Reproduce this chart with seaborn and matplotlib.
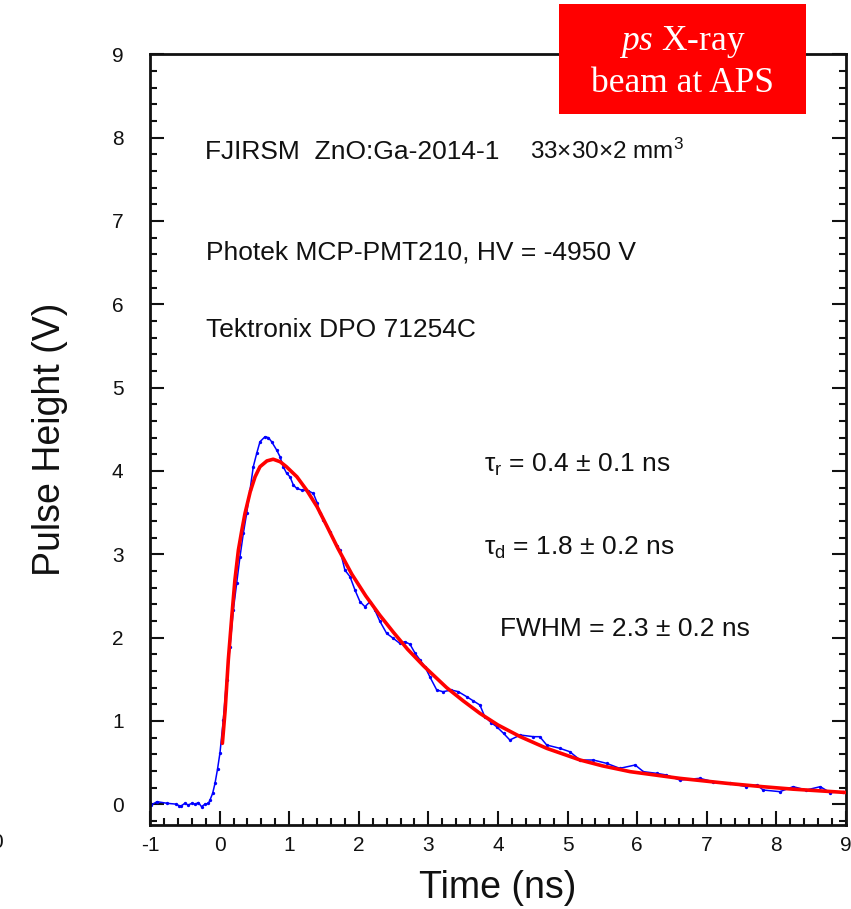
import matplotlib
matplotlib.use("Agg")
import matplotlib.pyplot as plt
from matplotlib.patches import Rectangle
from matplotlib.ticker import MultipleLocator
import seaborn as sns
import pandas as pd

# Measured pulse (time in ns, pulse height in V)
t_data = [-1.00, -0.98, -0.90, -0.75, -0.62, -0.58, -0.55, -0.50, -0.45, -0.40,
          -0.35, -0.305, -0.26, -0.21, -0.16, -0.138, -0.10, -0.066, -0.03, 0.006,
          0.053, 0.10, 0.149, 0.197, 0.245, 0.293, 0.341, 0.389, 0.437, 0.484,
          0.533, 0.58, 0.652, 0.70, 0.748, 0.82, 0.868, 0.915, 0.964, 1.011,
          1.06, 1.108, 1.18, 1.275, 1.347, 1.40, 1.44, 1.49, 1.586, 1.68,
          1.73, 1.80, 1.874, 1.945, 2.017, 2.089, 2.16, 2.23, 2.30, 2.40,
          2.496, 2.59, 2.66, 2.735, 2.81, 2.88, 2.95, 3.02, 3.12, 3.21,
          3.33, 3.43, 3.55, 3.645, 3.74, 3.81, 3.90, 3.98, 4.08, 4.17,
          4.32, 4.51, 4.60, 4.70, 4.89, 5.03, 5.18, 5.37, 5.56, 5.75,
          5.97, 6.09, 6.28, 6.42, 6.61, 6.90, 7.09, 7.33, 7.57, 7.72,
          7.81, 8.05, 8.24, 8.43, 8.63, 8.77, 8.96]
v_data = [0.01, -0.01, 0.03, 0.01, 0.00, -0.02, -0.02, 0.01, -0.01, 0.01,
          0.00, 0.02, -0.03, 0.00, 0.01, 0.05, 0.13, 0.25, 0.42, 0.62,
          1.01, 1.49, 1.89, 2.33, 2.65, 2.97, 3.25, 3.49, 3.77, 4.05,
          4.21, 4.35, 4.41, 4.40, 4.35, 4.25, 4.17, 4.05, 3.97, 3.93,
          3.83, 3.79, 3.77, 3.76, 3.73, 3.62, 3.49, 3.41, 3.27, 3.10,
          3.05, 2.81, 2.73, 2.57, 2.43, 2.37, 2.43, 2.33, 2.20, 2.05,
          1.99, 1.93, 1.95, 1.92, 1.81, 1.73, 1.65, 1.53, 1.37, 1.35,
          1.37, 1.35, 1.29, 1.24, 1.19, 1.05, 0.98, 0.93, 0.85, 0.77,
          0.83, 0.81, 0.81, 0.71, 0.67, 0.63, 0.53, 0.53, 0.49, 0.43,
          0.47, 0.39, 0.37, 0.35, 0.29, 0.31, 0.27, 0.25, 0.21, 0.23,
          0.17, 0.15, 0.21, 0.17, 0.21, 0.14, 0.15]

# Fitted pulse shape
t_fit = [0.04, 0.08, 0.125, 0.175, 0.22, 0.27, 0.32, 0.365, 0.44, 0.51,
         0.58, 0.68, 0.77, 0.87, 0.96, 1.11, 1.25, 1.40, 1.54, 1.70,
         1.90, 2.10, 2.30, 2.50, 2.70, 2.93, 3.26, 3.50, 3.74, 4.00,
         4.32, 4.70, 5.18, 5.50, 5.90, 6.30, 6.61, 7.29, 7.80, 8.24,
         9.00]
v_fit = [0.73, 1.13, 1.73, 2.25, 2.69, 3.05, 3.29, 3.49, 3.75, 3.93,
         4.05, 4.12, 4.14, 4.11, 4.05, 3.93, 3.77, 3.57, 3.34, 3.07,
         2.76, 2.50, 2.27, 2.06, 1.86, 1.66, 1.40, 1.24, 1.09, 0.95,
         0.81, 0.67, 0.53, 0.46, 0.39, 0.345, 0.31, 0.25, 0.21, 0.18,
         0.14]

x_ticks = list(range(-1, 10))
y_ticks = list(range(0, 10))

sns.set_theme(style="ticks")
plt.rcParams["font.family"] = ["Liberation Sans", "DejaVu Sans"]
plt.rcParams["axes.unicode_minus"] = False
plt.rcParams["mathtext.fontset"] = "custom"
plt.rcParams["mathtext.rm"] = "Liberation Serif"
plt.rcParams["mathtext.it"] = "Liberation Serif:italic"

fig = plt.figure(figsize=(8.51, 9.09), dpi=100)
ax = fig.add_axes([150 / 851, 1 - 825 / 909, 696 / 851, 770.7 / 909])

meas = pd.DataFrame({"t": t_data, "v": v_data})
fit = pd.DataFrame({"t": t_fit, "v": v_fit})

sns.lineplot(data=meas, x="t", y="v", ax=ax, color="#0000ff", lw=1.1,
             marker="o", markersize=2.4, markeredgewidth=0, estimator=None,
             sort=False, zorder=2)
sns.lineplot(data=fit, x="t", y="v", ax=ax, color="#ff0000", lw=2.6,
             estimator=None, sort=False, zorder=3)

ax.set_xlim(-1, 9)
ax.set_ylim(-0.25, 9)
ax.set_xticks(x_ticks)
ax.set_yticks(y_ticks)
ax.xaxis.set_minor_locator(MultipleLocator(0.2))
ax.yaxis.set_minor_locator(MultipleLocator(0.2))
ax.tick_params(which="both", direction="in", top=False, right=True,
               width=1.5, color="#111111")
ax.tick_params(which="major", length=10, labelsize=15, labelcolor="#111111")
ax.tick_params(which="minor", length=5)
ax.tick_params(axis="x", which="major", pad=8)
ax.tick_params(axis="y", which="major", pad=19)
for sp in ax.spines.values():
    sp.set_linewidth(2.0)
    sp.set_color("#111111")

ax.set_xlabel("Time (ns)", fontsize=27, color="#111111")
ax.set_ylabel("Pulse Height (V)", fontsize=27, color="#111111")
ax.xaxis.set_label_coords(0.5, -0.058)
ax.yaxis.set_label_coords(-0.118, 0.5)

txt = dict(fontsize=19, color="#111111", ha="left", va="center")
ax.text(-0.21, 7.83, "FJIRSM  ZnO:Ga-2014-1", **txt)
ax.text(4.46, 7.83, "33\u00d730\u00d72 mm$\\mathregular{^3}$",
        **{**txt, "fontsize": 17.5})
ax.text(-0.195, 6.62, "Photek MCP-PMT210, HV = -4950 V", **txt)
ax.text(-0.195, 5.69, "Tektronix DPO 71254C", **txt)
ax.text(3.80, 4.07, "\u03c4$\\mathregular{_r}$ = 0.4 \u00b1 0.1 ns", **txt)
ax.text(3.80, 3.08, "\u03c4$\\mathregular{_d}$ = 1.8 \u00b1 0.2 ns", **txt)
ax.text(4.03, 2.10, "FWHM = 2.3 \u00b1 0.2 ns", **txt)

# Beam label box
fig.patches.append(Rectangle((559 / 851, 1 - 114 / 909), 247 / 851, 110 / 909,
                             transform=fig.transFigure, facecolor="#ff0000",
                             edgecolor="none", zorder=5))
fig.text(682.5 / 851, 1 - 42 / 909, "$\\mathit{ps}$ X-ray", fontsize=25.5,
         family="Liberation Serif", color="white", ha="center", va="center", zorder=6)
fig.text(682.5 / 851, 1 - 83 / 909, "beam at APS", fontsize=25.5,
         family="Liberation Serif", color="white", ha="center", va="center", zorder=6)

fig.text(3 / 851, 1 - 842 / 909, "0", fontsize=15, color="#111111",
         ha="right", va="center")

fig.savefig("out.png", dpi=100)
